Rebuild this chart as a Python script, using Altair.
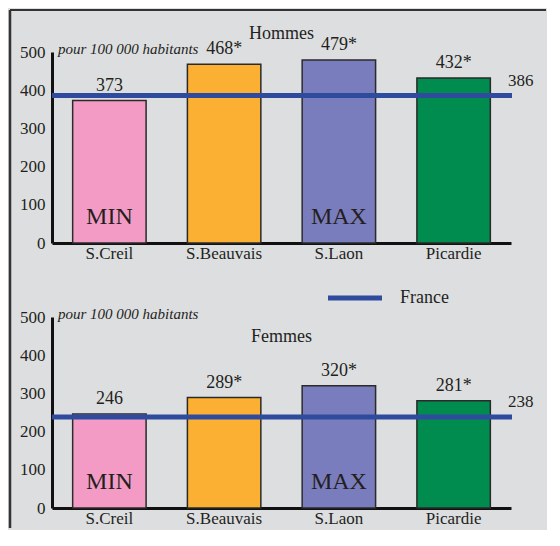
import altair as alt
import pandas as pd

categories = ["S.Creil", "S.Beauvais", "S.Laon", "Picardie"]
hommes = [373, 468, 479, 432]
femmes = [246, 289, 320, 281]
hommes_labels = ["373", "468*", "479*", "432*"]
femmes_labels = ["246", "289*", "320*", "281*"]
tags = ["MIN", "", "MAX", ""]
bar_colors = ["#f39bc4", "#fbb034", "#7a7dbd", "#008b4f"]
panels = ["Hommes", "Femmes"]
france_values = [386, 238]
france_name = "France"
unit_note = "pour 100 000 habitants"
y_ticks = [0, 100, 200, 300, 400, 500]

FONT = "Liberation Serif"
TXT = "#231f20"
BLUE = "#2e4b9d"
W, H = 459, 191


def panel(title, values, labels, france, first):
    df = pd.DataFrame({"cat": categories, "value": values, "label": labels, "tag": tags})
    fr = pd.DataFrame({"name": [france_name], "value": [france], "title": [title],
                       "note": [unit_note]})
    x = alt.X("cat:N", sort=categories,
              scale=alt.Scale(paddingInner=0.36, paddingOuter=0.18),
              axis=alt.Axis(title=None, labelAngle=0, ticks=False, tickSize=0,
                            domainWidth=3, domainColor="#111111", labelFontSize=17,
                            labelPadding=2, labelColor=TXT, labelFont=FONT,
                            labelOverlap=False))
    y = alt.Y("value:Q", scale=alt.Scale(domain=[0, 500], nice=False),
              axis=alt.Axis(values=y_ticks, title=None, grid=False, ticks=False,
                            tickSize=0, domainWidth=3, domainColor="#111111",
                            labelFontSize=17, labelPadding=7, labelColor=TXT,
                            labelFont=FONT, labelOverlap=False, labelFlush=False,
                            labelBound=False))
    base = alt.Chart(df)
    bars = base.mark_bar(stroke="#2a2a2a", strokeWidth=1.5).encode(
        x=x, y=y,
        color=alt.Color("cat:N", scale=alt.Scale(domain=categories, range=bar_colors),
                        legend=None))
    vals = base.mark_text(fontSize=18, font=FONT, color=TXT, baseline="alphabetic",
                          dy=-10).encode(x=x, y=y, text="label:N")
    tg = base.mark_text(fontSize=24, font=FONT, color=TXT, baseline="alphabetic").encode(
        x=x, y=alt.value(172), text="tag:N")
    fbase = alt.Chart(fr)
    rule = fbase.mark_rule(color=BLUE, strokeWidth=5).encode(
        y=y, x=alt.value(0), x2=alt.value(460))
    rlab = fbase.mark_text(fontSize=17, font=FONT, color=TXT, align="left",
                           baseline="alphabetic", dy=-10).encode(
        x=alt.value(456), y=y, text=alt.Text("value:Q"))
    note = fbase.mark_text(fontSize=15, font=FONT, fontStyle="italic", color=TXT,
                           align="left", baseline="alphabetic").encode(
        x=alt.value(6), y=alt.value(2), text="note:N")
    ttl = fbase.mark_text(fontSize=18, font=FONT, color=TXT, align="center",
                          baseline="alphabetic").encode(
        x=alt.value(W / 2), y=alt.value(-13 if first else 25), text="title:N")
    layers = [bars, vals, tg, rule, rlab, note, ttl]
    if first:
        frame_l = fbase.mark_rule(color="#333333", strokeWidth=2.5).encode(
            x=alt.value(-42), y=alt.value(-42), y2=alt.value(476))
        frame_t = fbase.mark_rule(color="#333333", strokeWidth=2).encode(
            x=alt.value(-42), x2=alt.value(494), y=alt.value(-42))
        layers += [frame_l, frame_t]
    else:
        leg_line = fbase.mark_rule(color=BLUE, strokeWidth=5).encode(
            x=alt.value(276), x2=alt.value(330), y=alt.value(-19))
        leg_txt = fbase.mark_text(fontSize=18, font=FONT, color=TXT, align="left",
                                  baseline="alphabetic").encode(
            x=alt.value(348), y=alt.value(-14), text="name:N")
        layers += [leg_line, leg_txt]
    return alt.layer(*layers).properties(width=W, height=H)


top = panel(panels[0], hommes, hommes_labels, france_values[0], True)
bottom = panel(panels[1], femmes, femmes_labels, france_values[1], False)

chart = alt.vconcat(top, bottom, spacing=74, bounds="flush").properties(
    background="#dddee0", padding=0
).configure_view(stroke=None).configure_text(font=FONT).configure_axis(
    labelOverlap=False
)

chart.save("out.html", embed_options={"renderer": "svg", "actions": False})
